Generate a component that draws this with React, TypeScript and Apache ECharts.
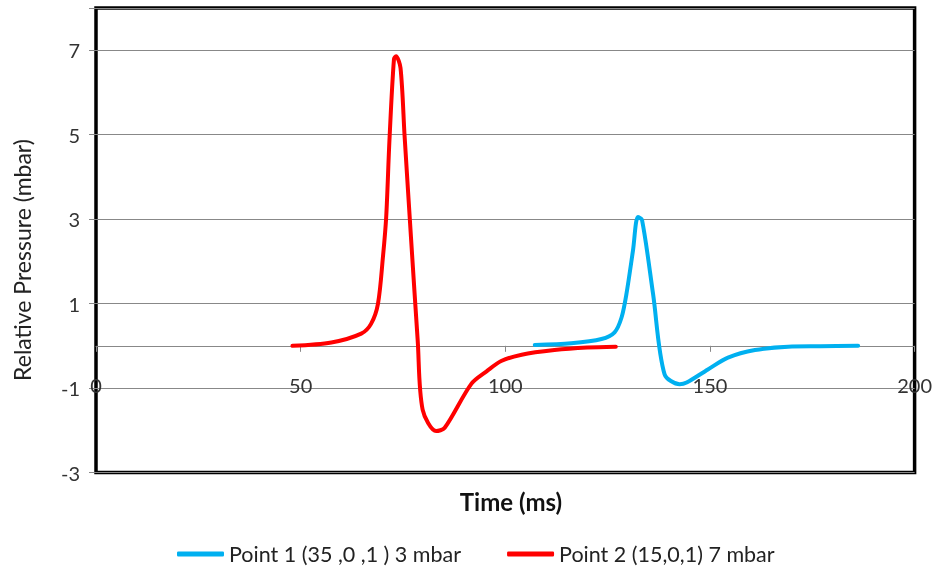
import React, { useEffect, useRef } from 'react';
import * as echarts from 'echarts';

const xTicks = [0, 50, 100, 150, 200];
const yTickLabels = [-3, -1, 1, 3, 5, 7];

const seriesNames = ['Point 1 (35 ,0 ,1 ) 3 mbar', 'Point 2 (15,0,1) 7 mbar'];

const blueX = [107.2, 116.1, 123.5, 126.7, 128.4, 129.6, 131.2, 132.4, 133.4, 136.1, 138.9, 142.6, 144.3, 149.5, 154.4, 161, 169.1, 177, 186.2];
const blueY = [0.02, 0.06, 0.16, 0.32, 0.67, 1.23, 2.26, 3.05, 2.98, 1.23, -0.67, -0.91, -0.87, -0.56, -0.28, -0.1, -0.02, -0.01, 0];

const redX = [48, 57.5, 64.8, 67.2, 68.9, 70.1, 70.9, 71.7, 72.8, 73.3, 74.4, 75.4, 77.0, 78.6, 79.8, 83.1, 85.2, 91.7, 95.5, 99, 104, 112, 120, 127];
const redY = [0, 0.08, 0.29, 0.52, 1.0, 2.1, 3.05, 4.88, 6.79, 6.86, 6.58, 4.96, 2.5, 0.12, -1.51, -2.02, -1.94, -0.9, -0.6, -0.36, -0.21, -0.1, -0.04, -0.02];

const FONT = 'Lato';

export default function App() {
  const ref = useRef<HTMLDivElement>(null);
  useEffect(() => {
    const chart = echarts.init(ref.current!, null, { renderer: 'svg' });
    const zip = (xs: number[], ys: number[]) => xs.map((x, i) => [x, ys[i]]);
    const gridTop = 8;
    const gridBottom = 97.5;
    const plotH = 570 - gridTop - gridBottom;
    const yMin = yTickLabels[0];
    const yMax = 8;
    // distance from bottom edge of the plot to the y = 0 line
    const zeroOffset = (plotH * (0 - yMin)) / (yMax - yMin);
    chart.setOption({
      animation: false,
      textStyle: { fontFamily: FONT },
      grid: {
        left: 96, right: 20, top: gridTop, bottom: gridBottom,
        show: true, borderColor: '#000', borderWidth: 3.5, backgroundColor: 'transparent',
      },
      xAxis: {
        type: 'value', min: xTicks[0], max: xTicks[xTicks.length - 1], interval: 50,
        position: 'bottom', offset: -zeroOffset,
        axisLine: { show: true, onZero: false, lineStyle: { color: '#888', width: 1 } },
        axisTick: { show: true, length: 6, lineStyle: { color: '#888' } },
        splitLine: { show: false },
        axisLabel: { margin: 29, fontSize: 20, color: '#333', fontFamily: FONT },
      },
      yAxis: {
        type: 'value', min: yMin, max: yMax, interval: 2,
        axisLine: { show: false },
        axisTick: { show: true, length: 7, lineStyle: { color: '#888' } },
        splitLine: { show: true, lineStyle: { color: '#888', width: 1 } },
        axisLabel: {
          margin: 16, fontSize: 20, color: '#333', fontFamily: FONT,
          formatter: (v: number) => (yTickLabels.includes(v) ? String(v) : ''),
        },
      },
      legend: {
        left: 172, top: 538, itemWidth: 47, itemHeight: 5, itemGap: 46,
        icon: 'roundRect',
        textStyle: { fontSize: 21.5, color: '#222', fontFamily: FONT },
        data: seriesNames,
      },
      graphic: [
        {
          type: 'text', x: 22, y: 260, rotation: Math.PI / 2,
          style: { text: 'Relative Pressure (mbar)', font: `23px ${FONT}`, fill: '#222', textAlign: 'center', textVerticalAlign: 'middle' },
        },
        {
          type: 'text', x: 511, y: 501,
          style: { text: 'Time (ms)', font: `bold 24px ${FONT}`, fill: '#111', textAlign: 'center', textVerticalAlign: 'middle' },
        },
      ],
      series: [
        {
          name: seriesNames[0], type: 'line', data: zip(blueX, blueY), smooth: 0.3, showSymbol: false,
          lineStyle: { color: '#00B0F0', width: 4, cap: 'round' }, itemStyle: { color: '#00B0F0' },
        },
        {
          name: seriesNames[1], type: 'line', data: zip(redX, redY), smooth: 0.3, showSymbol: false,
          lineStyle: { color: '#FF0000', width: 4, cap: 'round' }, itemStyle: { color: '#FF0000' },
        },
      ],
    });
    return () => chart.dispose();
  }, []);
  return <div ref={ref} style={{ position: 'fixed', left: 0, top: 0, width: 935, height: 570 }} />;
}
